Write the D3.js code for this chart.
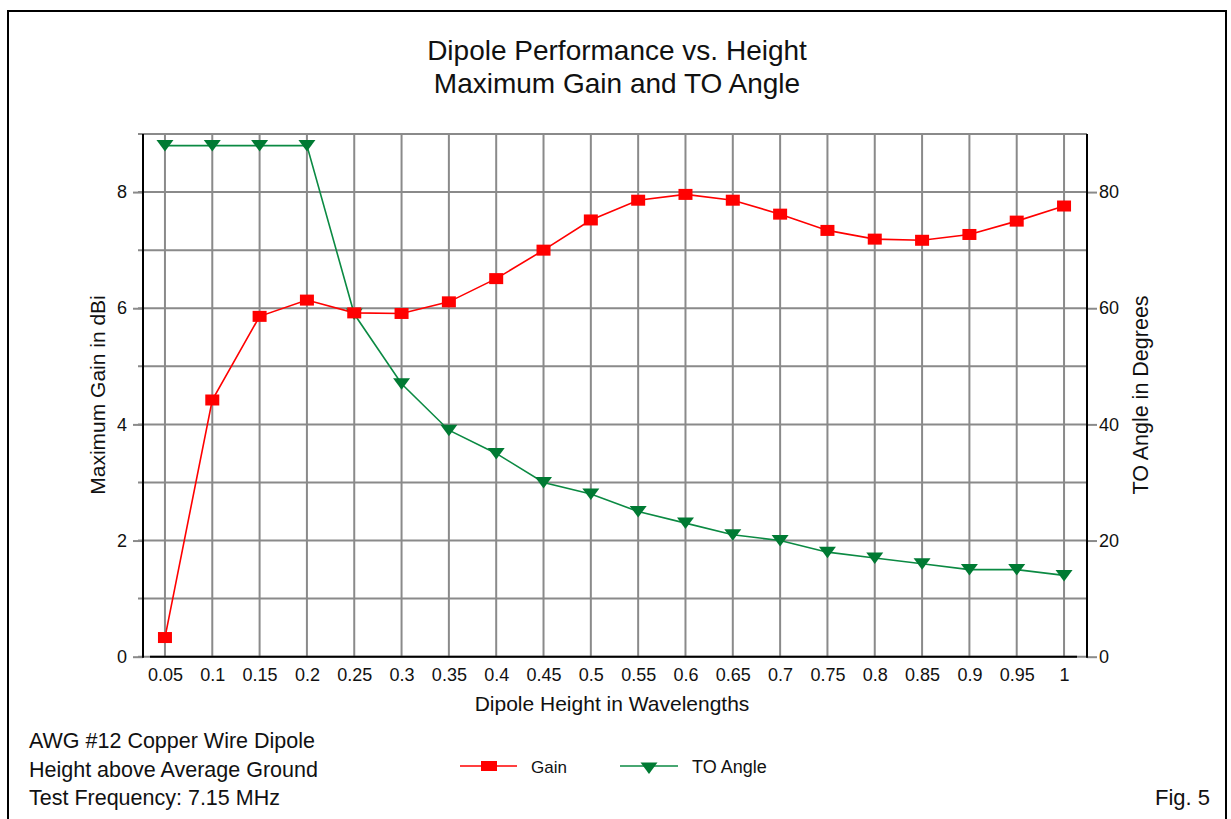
<!DOCTYPE html>
<html><head><meta charset="utf-8">
<script src="https://cdn.jsdelivr.net/npm/d3@7"></script>
<style>
body{margin:0;background:#fff;}
text{font-family:"Liberation Sans",Arial,sans-serif;fill:#111;}
</style></head>
<body><svg id="c" width="1231" height="819"></svg>
<script>
const heights = ["0.05","0.1","0.15","0.2","0.25","0.3","0.35","0.4","0.45","0.5","0.55","0.6","0.65","0.7","0.75","0.8","0.85","0.9","0.95","1"];
const gain = [0.33,4.42,5.86,6.14,5.92,5.91,6.11,6.51,7.0,7.52,7.86,7.96,7.86,7.62,7.34,7.19,7.17,7.27,7.5,7.76];
const toAngle = [88,88,88,88,59,47,39,35,30,28,25,23,21,20,18,17,16,15,15,14];
const gainTicks = [0,2,4,6,8];
const angleTicks = [0,20,40,60,80];

const svg = d3.select("#c");
const L=143, R=1087, T=134, B=656.7;
const x = d3.scalePoint().domain(heights).range([141.3,1087.7]).padding(0.5);
const yG = d3.scaleLinear().domain([0,9]).range([B,T]);
const yA = d3.scaleLinear().domain([0,90]).range([B,T]);
const RED="#ff0000", GREEN="#007a33", GREENL="#0b8a43", GRID="#8a8a8a";

// outer frame
svg.append("rect").attr("x",8).attr("y",11).attr("width",1218).attr("height",830)
  .attr("fill","none").attr("stroke","#000").attr("stroke-width",2);

// grid
const g = svg.append("g");
g.selectAll(".hg").data(d3.range(0,10)).join("line")
  .attr("x1",L-5).attr("x2",R).attr("y1",d=>yG(d)).attr("y2",d=>yG(d))
  .attr("stroke",GRID).attr("stroke-width",2);
g.selectAll(".vg").data(heights).join("line")
  .attr("x1",d=>x(d)).attr("x2",d=>x(d)).attr("y1",T).attr("y2",B)
  .attr("stroke",GRID).attr("stroke-width",2);

// left axis
const axL = d3.axisLeft(yG).tickValues(gainTicks).tickSize(10).tickPadding(6).tickFormat(d3.format("d"));
const gl = svg.append("g").attr("transform",`translate(${L},0)`).call(axL);
gl.select(".domain").remove();
gl.selectAll(".tick line").attr("stroke",GRID).attr("stroke-width",2);
gl.selectAll("text").style("font-size","18px");
svg.append("line").attr("x1",L).attr("x2",L).attr("y1",T).attr("y2",B+1).attr("stroke","#000").attr("stroke-width",2);

// right axis
const axR = d3.axisRight(yA).tickValues(angleTicks).tickSize(10).tickPadding(2).tickFormat(d3.format("d"));
const gr = svg.append("g").attr("transform",`translate(${R},0)`).call(axR);
gr.select(".domain").remove();
gr.selectAll(".tick line").attr("stroke",GRID).attr("stroke-width",2);
gr.selectAll("text").style("font-size","18px");
svg.append("line").attr("x1",R).attr("x2",R).attr("y1",T).attr("y2",B+1).attr("stroke","#000").attr("stroke-width",2);

// bottom axis
const axB = d3.axisBottom(x).tickSize(0).tickPadding(12);
const gb = svg.append("g").attr("transform",`translate(0,${B})`).call(axB);
gb.select(".domain").remove();
gb.selectAll("text").style("font-size","18px");
svg.append("line").attr("x1",150).attr("x2",1077).attr("y1",B).attr("y2",B).attr("stroke","#000").attr("stroke-width",2);

// lines
const lineG = d3.line().x((d,i)=>x(heights[i])).y(d=>yG(d));
const lineA = d3.line().x((d,i)=>x(heights[i])).y(d=>yA(d));
svg.append("path").attr("d",lineA(toAngle)).attr("fill","none").attr("stroke",GREENL).attr("stroke-width",1.6);
svg.append("path").attr("d",lineG(gain)).attr("fill","none").attr("stroke",RED).attr("stroke-width",1.6);

const tri = "M-8.5,-5.5 L8.5,-5.5 L0,6 Z";
svg.selectAll(".ta").data(toAngle).join("path")
  .attr("d",tri).attr("fill",GREEN)
  .attr("transform",(d,i)=>`translate(${x(heights[i])},${yA(d)})`);
svg.selectAll(".gs").data(gain).join("rect")
  .attr("x",(d,i)=>x(heights[i])-7).attr("y",d=>yG(d)-5.5)
  .attr("width",14).attr("height",11).attr("fill",RED);

// titles
svg.append("text").attr("x",617).attr("y",60).attr("text-anchor","middle").style("font-size","28px").text("Dipole Performance vs. Height");
svg.append("text").attr("x",617).attr("y",93).attr("text-anchor","middle").style("font-size","28px").text("Maximum Gain and TO Angle");
svg.append("text").attr("x",612).attr("y",711).attr("text-anchor","middle").style("font-size","21px").text("Dipole Height in Wavelengths");
svg.append("text").attr("transform","translate(105,395) rotate(-90)").attr("text-anchor","middle").style("font-size","21px").text("Maximum Gain in dBi");
svg.append("text").attr("transform","translate(1148,395) rotate(-90)").attr("text-anchor","middle").style("font-size","21.5px").text("TO Angle in Degrees");

// notes
const notes = ["AWG #12 Copper Wire Dipole","Height above Average Ground","Test Frequency: 7.15 MHz"];
svg.selectAll(".nt").data(notes).join("text").attr("x",29).attr("y",(d,i)=>748+i*28.5).style("font-size","21.5px").text(d=>d);
svg.append("text").attr("x",1210).attr("y",805).attr("text-anchor","end").style("font-size","22px").text("Fig. 5");

// legend
const lg = svg.append("g");
lg.append("line").attr("x1",460).attr("x2",517).attr("y1",766).attr("y2",766).attr("stroke",RED).attr("stroke-width",1.6);
lg.append("rect").attr("x",481).attr("y",761).attr("width",16).attr("height",10).attr("fill",RED);
lg.append("text").attr("x",531).attr("y",773).style("font-size","17px").text("Gain");
lg.append("line").attr("x1",620).attr("x2",678).attr("y1",766).attr("y2",766).attr("stroke",GREENL).attr("stroke-width",1.6);
lg.append("path").attr("d",tri).attr("fill",GREEN).attr("transform","translate(649,768)");
lg.append("text").attr("x",692).attr("y",773).style("font-size","18px").text("TO Angle");
</script></body></html>
